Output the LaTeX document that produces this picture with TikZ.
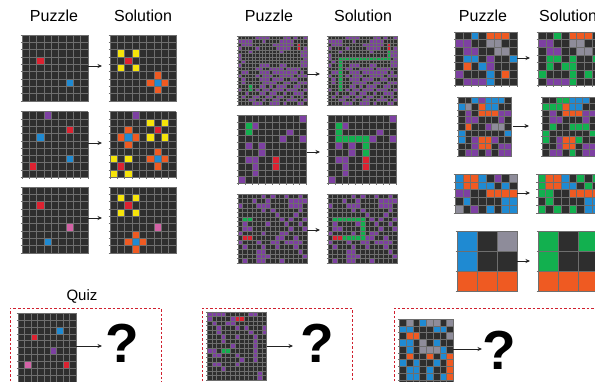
\documentclass[tikz,border=0pt]{standalone}
\usepackage{fontspec}
\setmainfont{Liberation Sans}
\usetikzlibrary{arrows.meta}
\definecolor{gbg}{HTML}{2E2E2E}
\definecolor{glc}{HTML}{6E6E6E}
\definecolor{cr}{HTML}{DD2231}
\definecolor{cb}{HTML}{1F8AD2}
\definecolor{cy}{HTML}{F6E40A}
\definecolor{co}{HTML}{EF5A22}
\definecolor{cp}{HTML}{7D40A2}
\definecolor{cg}{HTML}{12B04F}
\definecolor{cm}{HTML}{D462A6}
\definecolor{cs}{HTML}{8E8C9A}
\definecolor{arrowc}{HTML}{222222}
\definecolor{dashc}{HTML}{D0202F}
\tikzset{
  gline/.style={draw=glc, line width=\aglw pt},
  conn/.style={draw=arrowc, line width=0.9pt, -{Stealth[length=4.5pt,width=4pt]}},
  quizbox/.style={draw=dashc, line width=0.9pt, dash pattern=on 2.5pt off 2pt},
  title/.style={font=\fontsize{16}{16}\selectfont, anchor=base, inner sep=0},
  qmark/.style={font=\fontsize{55}{55}\selectfont\bfseries, inner sep=0}
}
\newcommand\arcgrid[7]{%
  \def\agx{#1}\def\agy{#2}\def\acw{#3}\def\ach{#4}%
  \pgfmathsetmacro\aglw{min(0.4,#3*0.065)}%
  \fill[fill=gbg] (#1,#2) rectangle ++(#5*#3,#6*#4);
  \foreach \ri [count=\rn from 0] in {#7}{%
    \def\acy{\rn}\def\acx{0}%
    \expandafter\arcrow\ri\relax}
  \foreach \i in {0,...,#5} \draw[gline] (#1+\i*#3,#2) -- (#1+\i*#3,#2+#6*#4+1.3);
  \foreach \j in {0,...,#6} \draw[gline] (#1-1.3,#2+\j*#4) -- (#1+#5*#3,#2+\j*#4);
}
\def\arcrow#1{\ifx#1\relax\else\arccell#1\pgfmathtruncatemacro\acx{\acx+1}\expandafter\arcrow\fi}
\def\arccell#1{\if#1k\else\fill[fill=c#1] (\agx+\acx*\acw,\agy+\acy*\ach) rectangle ++(\acw,\ach);\fi}
\begin{document}
\begin{tikzpicture}[x=1pt,y=-1pt]
\useasboundingbox (0,0) rectangle (595,381);
\clip (0,0) rectangle (595,381);
\fill[white] (0,0) rectangle (595,381);
% titles
\node[title] (t1p) at (54,21) {Puzzle};
\node[title] (t1s) at (143,21) {Solution};
\node[title] (t2p) at (269,21) {Puzzle};
\node[title] (t2s) at (363,21) {Solution};
\node[title] (t3p) at (483,21) {Puzzle};
\node[title, anchor=base west] (t3s) at (539,21) {Solution};
\node[font=\fontsize{15}{15}\selectfont, anchor=base, inner sep=0] (tq) at (82,300.5) {Quiz};
% ---------- column 1 ----------
\arcgrid{22}{35}{7.3}{7.3}{9}{9}{kkkkkkkkk,kkkkkkkkk,kkkkkkkkk,kkrkkkkkk,kkkkkkkkk,kkkkkkkkk,kkkkkkbkk,kkkkkkkkk,kkkkkkkkk}
\arcgrid{110}{35}{7.3}{7.3}{9}{9}{kkkkkkkkk,kkkkkkkkk,kykykkkkk,kkrkkkkkk,kykykkkkk,kkkkkkokk,kkkkkobok,kkkkkkokk,kkkkkkkkk}
\arcgrid{22}{111.5}{7.3}{7.3}{9}{9}{kkkpkkkkk,kkkkkkkkk,kkkkkkrkk,kkbkkkkkk,kkkkkkkkk,kkkkkkkkk,kkkkkkbkk,krkkkkkkk,kkkkkkkkk}
\arcgrid{110}{111.5}{7.3}{7.3}{9}{9}{kkkpkkkkk,kkkkkykyk,kkokkkrkk,kobokykyk,kkokkkkkk,kkkkkkokk,ykykkobok,krkkkkokk,ykykkkkkk}
\arcgrid{22}{187}{7.3}{7.3}{9}{9}{kkkkkkkkk,kkkkkkkkk,kkrkkkkkk,kkkkkkkkk,kkkkkkkkk,kkkkkkmkk,kkkkkkkkk,kkkbkkkkk,kkkkkkkkk}
\arcgrid{110}{187}{7.3}{7.3}{9}{9}{kkkkkkkkk,kykykkkkk,kkrkkkkkk,kykykkkkk,kkkkkkkkk,kkkkkkmkk,kkkokkkkk,kkobokkkk,kkkokkkkk}
% ---------- column 2 ----------
\arcgrid{238}{36}{3.45}{3.45}{20}{20}{kkkkkppppkkkkppkpkkp,ppppkkkpkkkkppppkkkk,kpppkkkkkkppppppkrkk,pkkkkpkkkkkppppkkrkp,kkkpkkkkkkkkpkkkkkpp,pkkkkkkkkkkkkkkkkkpp,pkkkkkkkkkkkkkkkkkkp,kpkkkkkkkkkkkkkkkkpp,pkkkkkpppkkkppkkkkpp,kkkkkppkkppppkppppkk,kppkkkpppkpppppppkpk,pkkkkpkpppkkppppkppp,kpkkkkpppkpppkkppkkk,kpkkkkkppppkkppkkppp,kkkgkkppkpkpppkkppkk,pkkgkpkppkpppkpppkkp,kkpkkkppkppkkpkkpppk,kpkkppkkppkppkkpkkpk,kkkppkkpkkppkkpppkkp,kkkkpppkkpppkpkkkppk}
\arcgrid{328}{36}{3.45}{3.45}{20}{20}{kkkkkppppkkkkppkpkkp,ppppkkkpkkkkppppkkkk,kpppkkkkkkppppppkrkk,pkkkkpkkkkkppppkkrkp,kkkpkkkkkkkkpkkkkgpp,pkkkkkkkkkkkkkkkkgpp,pkkgggggggggggggggkp,kpkgkkkkkkkkkkkkkkpp,pkkgkkpppkkkppkkkkpp,kkkgkppkkppppkppppkk,kppgkkpppkpppppppkpk,pkkgkpkpppkkppppkppp,kpkgkkpppkpppkkppkkk,kpkgkkkppppkkppkkppp,kkkgkkppkpkpppkkppkk,pkkgkpkppkpppkpppkkp,kkpkkkppkppkkpkkpppk,kpkkppkkppkppkkpkkpk,kkkppkkpkkppkkpppkkp,kkkkpppkkpppkpkkkppk}
\arcgrid{238}{115}{6.85}{6.85}{10}{10}{kkkkkkkkkp,kgpkkkkkkk,kgkkkkkpkk,kkkkkkpkkp,kpkpkkkkkk,kkkpkkkkkk,kppkkrkkkk,kkpkkrkkkk,kkpkkkkkkk,pkkkkkkkkk}
\arcgrid{328}{115}{6.85}{6.85}{10}{10}{kkkkkkkkkp,kgpkkkkkkk,kgkkkkkpkk,kgggggpkkp,kpkpkgkkkk,kkkpkgkkkk,kppkkrkkkk,kkpkkrkkkk,kkpkkkkkkk,pkkkkkkkkk}
\arcgrid{238}{194}{4.6}{4.6}{15}{15}{kkkkkpkpkkpkkpk,kkkpkkpkkkkpppp,pkkkpppkkkkpppk,kkkkkpkpkkkkkpk,kkkkkkkkpkkkpkk,kggkkkkkkpkpkkp,kpkkkkpkkkpkkpk,kppkkkkkkkkpkkp,pkkkkpkkkppkkkk,krrkkkkkppkkpkk,pkkkpkkppkppppk,kpkkkpkkpkkkpkk,kkkkppkkkkkkkpk,kkkkpppkkkkkkkp,kpkkppkkkpkkkkk}
\arcgrid{328}{194}{4.6}{4.6}{15}{15}{kkkkkpkpkkpkkpk,kkkpkkpkkkkpppp,pkkkpppkkkkpppk,kkkkkpkpkkkkkpk,kkkkkkkkpkkkpkk,kgggggggkpkpkkp,kpkkkkpgkkpkkpk,kppkkkkgkkkpkkp,pkkkkpkgkppkkkk,krrgggggppkkpkk,pkkkpkkppkppppk,kpkkkpkkpkkkpkk,kkkkppkkkkkkkpk,kkkkpppkkkkkkkp,kpkkppkkkpkkkkk}
% ---------- column 3 ----------
\arcgrid{455.3}{31.7}{7.7}{7.7}{8}{7}{kkbkoook,ppkksskk,kppkkssk,kbbkpkkb,kokbpkkk,pkkkbkok,kpppbkkk}
\arcgrid{538}{31.7}{7.7}{7.7}{8}{7}{kkgkoook,ppkksskk,kppkkssk,kggkgkkg,kgkggkkk,gkkkgkgk,kpppgkkk}
\arcgrid{458.3}{96.7}{6.6}{6.6}{8}{9}{kkbpbbbk,bskobbkk,kpkooopp,kppkkkpk,kokkpssk,bkkkkkkb,bkpoopkk,kkpookpp,kppkpkpp}
\arcgrid{542.5}{96.7}{6.6}{6.6}{8}{9}{kkggbbbk,gggobbkk,kpkooopp,kppkkkpk,kgkkgggk,gkkkkkkg,gkpoogkk,kkpookpp,kppkgkpp}
\arcgrid{455}{174}{7.75}{7.75}{8}{5}{boobkpks,boobbkbk,ppkkoooo,kbkkkkbb,skpkbkbb}
\arcgrid{537.7}{174}{7.75}{7.75}{8}{5}{goobkgkg,goobbkgk,ggkkoooo,kgkkkkbb,gkgkgkbb}
\arcgrid{457}{231}{20}{20}{3}{3}{bks,bkk,ooo}
\arcgrid{538}{231}{20}{20}{3}{3}{gkg,gkk,ooo}
% ---------- arrows ----------
\coordinate (a1a) at (88,66);   \coordinate (b1a) at (102,66);
\coordinate (a1b) at (88,143);  \coordinate (b1b) at (102,143);
\coordinate (a1c) at (88,218);  \coordinate (b1c) at (102,218);
\coordinate (a2a) at (307,74);  \coordinate (b2a) at (320,74);
\coordinate (a2b) at (307,152); \coordinate (b2b) at (320,152);
\coordinate (a2c) at (307,230); \coordinate (b2c) at (320,230);
\coordinate (a3a) at (517,58);  \coordinate (b3a) at (530,58);
\coordinate (a3b) at (513,126); \coordinate (b3b) at (529,126);
\coordinate (a3c) at (517,193); \coordinate (b3c) at (530,193);
\coordinate (a3d) at (517,261); \coordinate (b3d) at (530,261);
\foreach \s in {1a,1b,1c,2a,2b,2c,3a,3b,3c,3d} \draw[conn] (a\s) -- (b\s);
% ---------- quiz ----------
\draw[quizbox] (10,390) -- (10,308) -- (161,308) -- (161,390);
\draw[quizbox] (202,390) -- (202,308) -- (352,308) -- (352,390);
\draw[quizbox] (394,390) -- (394,308) -- (610,308);
\arcgrid{18}{313}{6.44}{6.9}{9}{10}{kkkkkkkkk,kkkkkkkkk,kkkkkkbkk,kkrkkkkkk,kkkkkkkkk,kkkkkpkkk,kkkkkkkkk,kmkkkkkrk,kkkkkkkkk,kkkkkkkkk}
\arcgrid{207.3}{311.7}{4.56}{4.56}{13}{15}{ppppkkkkkppkk,pkkkkprrkkkkk,kpkkppkkkkkkk,kkpkkkpkpkkkp,kkpkkkkkkpkkp,kkkpkkpkkkpkk,kkkpkkkkkkpkk,kkkkkpkkkkpkk,ppkggkkkkkpkk,kppkkkpkkkpkk,kkkkkkkpkkpkk,kppkkkpkkkkkk,kkkpkkkkkkkkk,kkkkkkkkkkkpk,kkkkkkkkkkkpk}
\arcgrid{399.3}{319}{6.75}{6.75}{8}{10}{kskbssks,bbkkkbbk,kookkkks,bbkskbkk,kbksssbk,kokkokbo,bkbkkbko,kbbkbkko,kbbkbkbo,kkkkkkkk}
\coordinate (aq1) at (76,346);  \coordinate (bq1) at (102,346);
\coordinate (aq2) at (267,346); \coordinate (bq2) at (293,346);
\coordinate (aq3) at (453,349); \coordinate (bq3) at (482,349);
\foreach \s in {1,2,3} \draw[conn] (aq\s) -- (bq\s);
\node[qmark] (q1) at (122,343) {?};
\node[qmark] (q2) at (317,343) {?};
\node[qmark] (q3) at (499,350) {?};
\end{tikzpicture}
\end{document}
